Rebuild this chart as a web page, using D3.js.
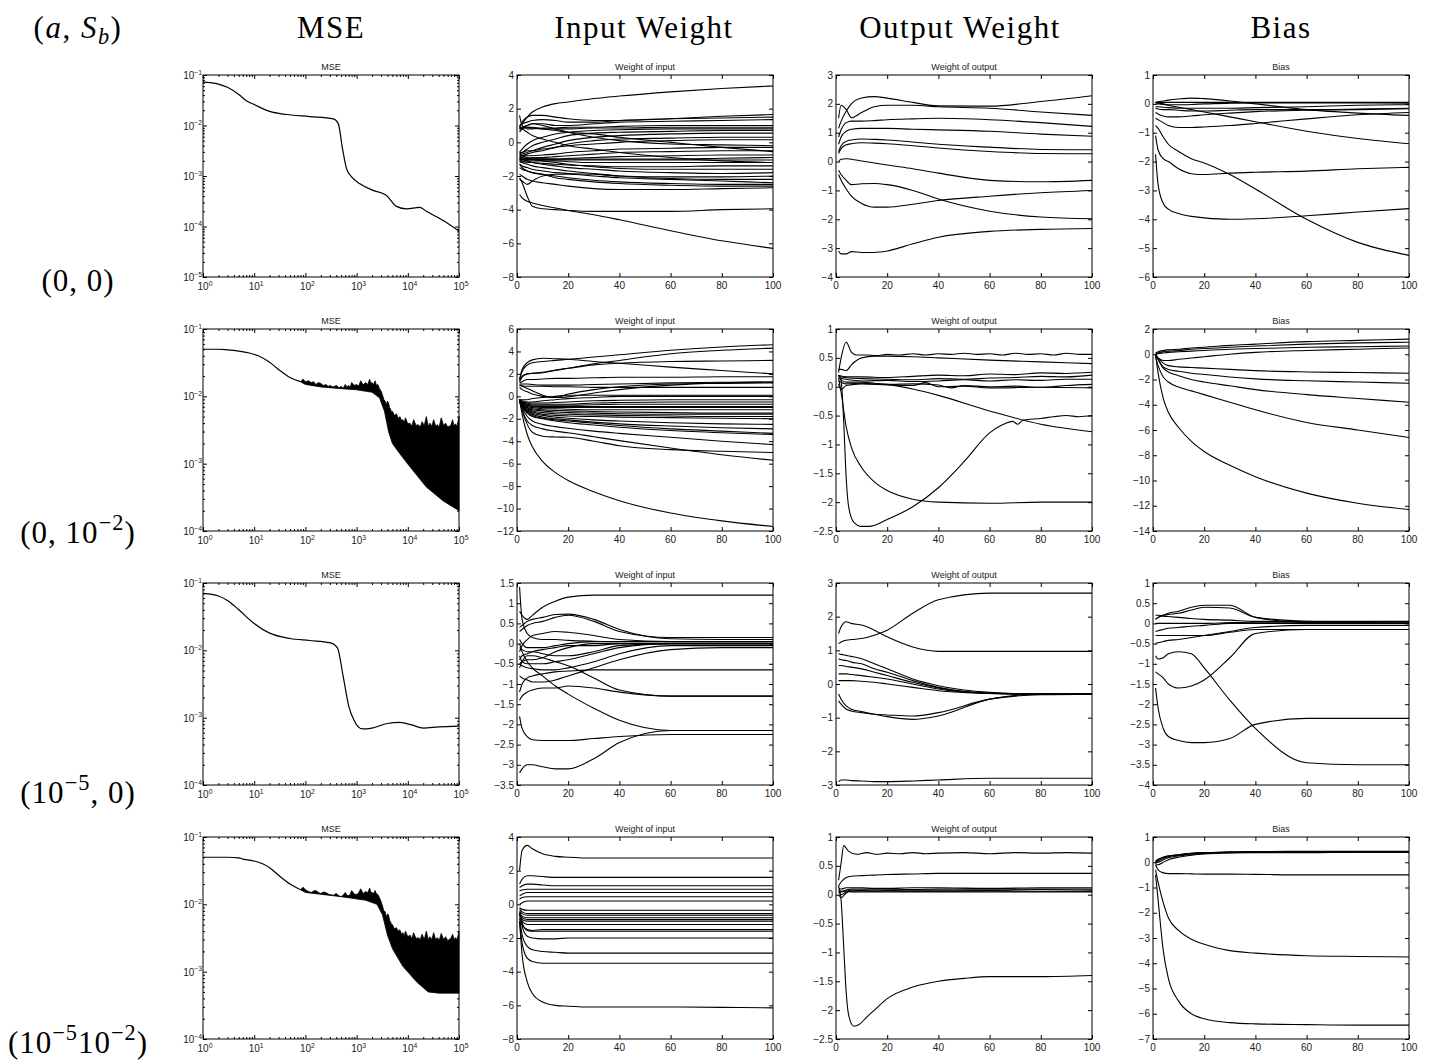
<!DOCTYPE html>
<html><head><meta charset="utf-8">
<script src="https://cdn.jsdelivr.net/npm/d3@7"></script>
<style>body{margin:0;background:#fff}svg{display:block}</style>
</head><body>
<svg id="c" width="1432" height="1061"></svg>
<script>
// ---------------- DATA ----------------
const headers = ["MSE", "Input Weight", "Output Weight", "Bias"];
const panelTitles = ["MSE", "Weight of input", "Weight of output", "Bias"];
const rowLabels = [
  [["(0, 0)", ""]],
  [["(0, 10", ""], ["\u22122", "sup"], [")", ""]],
  [["(10", ""], ["\u22125", "sup"], [", 0)", ""]],
  [["(10", ""], ["\u22125", "sup"], ["10", ""], ["\u22122", "sup"], [")", ""]]
];
const cornerLabel = [["(", ""], ["a", "it"], [", ", ""], ["S", "it"], ["b", "sub"], [")", ""]];

const mseXTicks = [1, 10, 100, 1000, 10000, 100000];
const mseYDomains = [[1e-5, 1e-1], [1e-4, 1e-1], [1e-4, 1e-1], [1e-4, 1e-1]];
const wXTicks = [0, 20, 40, 60, 80, 100];
const inTicks = [[-8,-6,-4,-2,0,2,4], [-12,-10,-8,-6,-4,-2,0,2,4,6], [-3.5,-3,-2.5,-2,-1.5,-1,-0.5,0,0.5,1,1.5], [-8,-6,-4,-2,0,2,4]];
const outTicks = [[-4,-3,-2,-1,0,1,2,3], [-2.5,-2,-1.5,-1,-0.5,0,0.5,1], [-3,-2,-1,0,1,2,3], [-2.5,-2,-1.5,-1,-0.5,0,0.5,1]];
const biasTicks = [[-6,-5,-4,-3,-2,-1,0,1], [-14,-12,-10,-8,-6,-4,-2,0,2], [-4,-3.5,-3,-2.5,-2,-1.5,-1,-0.5,0,0.5,1], [-7,-6,-5,-4,-3,-2,-1,0,1]];

// MSE curves (iteration, mse)
const mse1 = [[1,0.072],[2,0.066],[3,0.057],[5,0.041],[7,0.031],[10,0.026],[20,0.019],[43,0.0165],[120,0.015],[350,0.0135],[437,0.011],[530,0.0035],[636,0.0014],[800,0.00096],[1160,0.0007],[2100,0.00052],[3840,0.00041],[6000,0.00025],[9500,0.000223],[17000,0.00024],[23000,0.0002],[50000,0.00013],[100000,0.000081]];
const mse2 = [[1,0.05],[2,0.05],[3,0.049],[5,0.047],[8,0.044],[12,0.04],[20,0.032],[30,0.025],[50,0.019],[80,0.0165]];
const mse2Upper = [[80,0.0165],[90,0.018],[100,0.0165],[115,0.017],[130,0.016],[145,0.0165],[160,0.015],[180,0.016],[200,0.0155],[225,0.0145],[250,0.015],[280,0.014],[300,0.0145],[350,0.0138],[400,0.0145],[450,0.0135],[500,0.014],[550,0.0132],[600,0.015],[650,0.0138],[700,0.0145],[750,0.0135],[800,0.016],[900,0.0145],[1000,0.015],[1100,0.0142],[1200,0.017],[1350,0.0148],[1500,0.016],[1650,0.015],[1800,0.018],[1900,0.0155],[2000,0.016],[2150,0.015],[2300,0.017],[2450,0.0145],[2600,0.015],[2800,0.013],[3000,0.012],[3200,0.0105],[3400,0.009],[3600,0.0085],[3800,0.0075],[4000,0.0085],[4200,0.008],[4400,0.0068],[4600,0.0065],[4800,0.0058],[5000,0.006],[5500,0.0052],[6000,0.0055],[6500,0.0047],[7000,0.005],[7500,0.0044],[8000,0.0045],[8500,0.0041],[9000,0.0048],[10000,0.0039],[11000,0.004],[12000,0.0036],[13000,0.0045],[14500,0.0037],[16000,0.0038],[17500,0.0035],[19000,0.0042],[21000,0.0037],[23000,0.005],[25000,0.0036],[27000,0.004],[29500,0.0036],[32000,0.0045],[35000,0.0036],[38000,0.0038],[41000,0.0035],[45000,0.0048],[50000,0.0037],[55000,0.004],[60000,0.0035],[65000,0.0036],[70000,0.0038],[75000,0.0045],[80000,0.0036],[85000,0.0039],[92000,0.0036],[100000,0.005]];
const mse2Lower = [[80,0.0165],[100,0.015],[200,0.0138],[500,0.013],[1000,0.0125],[2000,0.0115],[2800,0.0095],[3500,0.006],[4200,0.003],[5000,0.002],[7000,0.0014],[11000,0.0009],[23000,0.00045],[49000,0.00028],[100000,0.0002]];
const mse3 = [[1,0.07],[2,0.064],[3,0.055],[5,0.04],[10,0.025],[20,0.018],[50,0.015],[120,0.014],[300,0.013],[420,0.011],[550,0.004],[700,0.0015],[900,0.0009],[1300,0.00068],[2000,0.0007],[4000,0.00082],[7000,0.00085],[12000,0.00078],[20000,0.0007],[40000,0.00073],[100000,0.00075]];
const mse4 = [[1,0.05],[3,0.05],[5,0.049],[6,0.047],[7,0.046],[10,0.044],[20,0.035],[30,0.027],[50,0.02],[80,0.0165]];
const mse4Upper = [[80,0.0165],[90,0.018],[100,0.0165],[115,0.0155],[130,0.015],[145,0.0158],[160,0.016],[180,0.015],[200,0.0145],[225,0.0152],[250,0.015],[280,0.0142],[300,0.014],[350,0.0136],[400,0.0145],[450,0.0134],[500,0.013],[550,0.0138],[600,0.015],[650,0.0136],[700,0.0135],[750,0.014],[800,0.016],[900,0.0142],[1000,0.014],[1100,0.0148],[1200,0.017],[1350,0.0145],[1500,0.0155],[1650,0.0148],[1800,0.0175],[1900,0.015],[2000,0.015],[2150,0.0145],[2300,0.016],[2450,0.0142],[2600,0.014],[2800,0.0125],[3000,0.011],[3200,0.0095],[3400,0.008],[3600,0.0078],[3800,0.0065],[4000,0.0072],[4200,0.007],[4400,0.0058],[4600,0.0055],[4800,0.005],[5000,0.005],[5500,0.0043],[6000,0.0045],[6500,0.004],[7000,0.0042],[7500,0.0036],[8000,0.0038],[8500,0.0034],[9000,0.004],[10000,0.0033],[11000,0.0035],[12000,0.0031],[13000,0.0038],[14500,0.0031],[16000,0.0032],[17500,0.003],[19000,0.0036],[21000,0.003],[23000,0.004],[25000,0.003],[27000,0.0033],[29500,0.003],[32000,0.0038],[35000,0.003],[38000,0.0032],[41000,0.0029],[45000,0.0037],[50000,0.003],[55000,0.0033],[60000,0.0029],[65000,0.003],[70000,0.0032],[75000,0.0036],[80000,0.003],[85000,0.0032],[92000,0.003],[100000,0.004]];
const mse4Lower = [[80,0.0165],[100,0.015],[500,0.013],[1500,0.0115],[2500,0.01],[3200,0.007],[4000,0.0035],[5000,0.0022],[8000,0.0012],[15000,0.0007],[25000,0.0005],[40000,0.00048],[100000,0.00048]];

// weight / bias trajectories: values at epochs in G (or explicit [epoch, value] pairs)
const G = [1,2,4,6,10,15,20,30,40,60,80,100];

const inW1 = [
 [0.9,1.1,1.5,1.8,2.1,2.3,2.4,2.6,2.75,3.0,3.2,3.35],
 [0.9,1.2,1.5,1.6,1.6,1.5,1.4,1.3,1.3,1.4,1.55,1.65],
 [1.0,1.1,1.2,1.3,1.35,1.3,1.2,1.2,1.3,1.4,1.45,1.5],
 [0.8,0.9,1.0,1.1,1.1,1.0,1.0,1.1,1.2,1.25,1.3,1.35],
 [0.7,0.8,0.9,0.9,0.8,0.7,0.6,0.5,0.3,0.0,-0.3,-0.55],
 [0.6,0.8,1.0,1.1,1.0,0.8,0.6,0.3,0.1,-0.1,-0.15,-0.2],
 [0.8,0.9,0.9,0.85,0.8,0.8,0.8,0.85,0.85,0.9,0.9,0.9],
 [-0.6,-0.4,-0.1,0.1,0.3,0.5,0.6,0.7,0.75,0.8,0.8,0.8],
 [-0.7,-0.6,-0.4,-0.2,0.0,0.2,0.4,0.55,0.6,0.65,0.7,0.7],
 [-0.8,-0.7,-0.6,-0.5,-0.3,-0.1,0.1,0.3,0.4,0.5,0.55,0.55],
 [-0.9,-0.8,-0.7,-0.6,-0.5,-0.3,-0.1,0.1,0.2,0.25,0.3,0.3],
 [-0.6,-0.6,-0.5,-0.5,-0.4,-0.3,-0.2,-0.1,0.0,0.1,0.15,0.15],
 [0.9,0.8,0.6,0.4,0.2,0.0,-0.2,-0.4,-0.6,-0.9,-1.1,-1.2],
 [-0.8,-0.8,-0.8,-0.8,-0.75,-0.7,-0.6,-0.5,-0.4,-0.35,-0.3,-0.3],
 [-1.0,-1.0,-0.95,-0.9,-0.9,-0.85,-0.8,-0.7,-0.6,-0.55,-0.5,-0.5],
 [-1.1,-1.0,-1.0,-1.0,-1.0,-1.0,-0.95,-0.9,-0.85,-0.8,-0.75,-0.75],
 [-1.0,-1.0,-1.0,-1.0,-1.0,-1.0,-1.0,-1.0,-1.0,-1.0,-0.95,-0.9],
 [-0.9,-0.9,-0.95,-1.0,-1.0,-1.05,-1.05,-1.05,-1.05,-1.05,-1.05,-1.05],
 [-1.2,-1.15,-1.1,-1.1,-1.1,-1.1,-1.15,-1.2,-1.2,-1.2,-1.2,-1.2],
 [-1.0,-1.1,-1.2,-1.2,-1.25,-1.3,-1.35,-1.4,-1.45,-1.45,-1.4,-1.4],
 [-0.7,-0.8,-0.9,-1.0,-1.1,-1.2,-1.3,-1.45,-1.55,-1.6,-1.6,-1.6],
 [-0.9,-1.0,-1.1,-1.2,-1.3,-1.4,-1.5,-1.6,-1.7,-1.8,-1.85,-1.8],
 [-1.3,-1.4,-1.5,-1.6,-1.7,-1.8,-1.85,-1.9,-2.0,-2.05,-2.05,-2.0],
 [-1.1,-1.2,-1.3,-1.4,-1.5,-1.6,-1.7,-1.85,-2.0,-2.15,-2.2,-2.2],
 [-1.3,-1.5,-1.7,-1.8,-1.9,-2.0,-2.1,-2.25,-2.35,-2.45,-2.5,-2.5],
 [-1.5,-1.6,-1.7,-1.8,-1.9,-2.1,-2.2,-2.35,-2.45,-2.55,-2.6,-2.6],
 [-1.9,-2.0,-2.2,-2.3,-2.4,-2.5,-2.6,-2.75,-2.8,-2.8,-2.75,-2.7],
 [-2.2,-2.3,-2.5,-2.3,-2.0,-1.9,-1.9,-2.0,-2.1,-2.2,-2.3,-2.4],
 [-2.1,-2.4,-3.2,-3.8,-3.95,-4.0,-4.05,-4.1,-4.1,-4.1,-4.0,-3.95],
 [-3.1,-3.3,-3.5,-3.6,-3.75,-3.9,-4.05,-4.3,-4.6,-5.25,-5.85,-6.3],
 [1.6,1.0,0.8,0.8,0.85,0.85,0.9,0.9,0.95,1.0,1.0,1.0]
];
const outW1 = [
 [1.5,1.95,1.8,1.52,1.7,1.9,1.95,1.95,1.9,1.85,1.72,1.6],
 [1.15,1.4,1.75,2.0,2.2,2.25,2.2,2.05,1.93,1.92,2.08,2.28],
 [0.85,1.1,1.35,1.4,1.4,1.42,1.45,1.48,1.5,1.45,1.35,1.22],
 [0.6,0.85,1.05,1.12,1.15,1.15,1.15,1.12,1.1,1.05,0.95,0.88],
 [0.35,0.55,0.7,0.75,0.78,0.77,0.75,0.68,0.6,0.5,0.42,0.41],
 [0.28,0.45,0.58,0.62,0.65,0.64,0.62,0.55,0.47,0.35,0.28,0.27],
 [0.0,0.08,0.1,0.08,0.02,-0.05,-0.12,-0.25,-0.4,-0.65,-0.7,-0.65],
 [-0.3,-0.45,-0.65,-0.8,-0.77,-0.76,-0.8,-1.0,-1.3,-1.72,-1.92,-1.98],
 [-0.45,-0.65,-0.95,-1.2,-1.45,-1.58,-1.58,-1.48,-1.35,-1.2,-1.08,-1.0],
 [-3.1,-3.2,-3.2,-3.12,-3.15,-3.15,-3.1,-2.85,-2.62,-2.42,-2.35,-2.32]
];
const bias1 = [
 [0.05,0.07,0.1,0.13,0.17,0.2,0.18,0.1,0.0,-0.2,-0.32,-0.4],
 [0.05,0.05,0.05,0.05,0.05,0.05,0.05,0.05,0.05,0.05,0.05,0.05],
 [0.0,0.0,-0.02,-0.03,-0.03,-0.02,0.0,0.02,0.03,0.03,0.03,0.02],
 [-0.1,-0.1,-0.12,-0.13,-0.15,-0.15,-0.15,-0.15,-0.13,-0.1,-0.05,-0.03],
 [-0.15,-0.18,-0.2,-0.2,-0.22,-0.25,-0.25,-0.22,-0.2,-0.2,-0.18,-0.15],
 [-0.3,-0.35,-0.42,-0.45,-0.45,-0.42,-0.38,-0.32,-0.27,-0.22,-0.2,-0.17],
 [-0.5,-0.55,-0.65,-0.75,-0.82,-0.82,-0.8,-0.75,-0.68,-0.52,-0.38,-0.3],
 [0.05,0.03,0.0,-0.05,-0.12,-0.2,-0.28,-0.45,-0.62,-0.95,-1.2,-1.38],
 [-0.75,-0.85,-1.15,-1.4,-1.65,-1.9,-2.05,-2.45,-2.95,-4.0,-4.8,-5.25],
 [-1.1,-1.6,-1.9,-2.0,-2.25,-2.42,-2.45,-2.4,-2.37,-2.33,-2.25,-2.2],
 [-1.75,-2.8,-3.45,-3.65,-3.8,-3.9,-3.95,-4.0,-3.98,-3.88,-3.75,-3.63]
];
const inW2 = [
 [1.5,2.4,3.0,3.25,3.4,3.35,3.3,3.1,2.95,2.6,2.3,2.0],
 [1.5,2.2,2.8,3.0,3.1,3.2,3.3,3.5,3.7,4.1,4.4,4.6],
 [1.3,1.7,2.0,2.05,2.1,2.3,2.5,2.9,3.2,3.8,4.1,4.3],
 [1.4,1.8,2.0,2.05,2.15,2.35,2.5,2.8,2.95,3.1,3.15,3.2],
 [1.2,1.3,1.5,1.5,1.55,1.6,1.6,1.65,1.7,1.7,1.75,1.75],
 [1.1,1.1,1.1,1.05,1.0,1.0,1.0,1.05,1.1,1.2,1.25,1.25],
 [1.0,0.95,0.9,0.9,0.9,0.85,0.85,0.8,0.8,0.8,0.8,0.8],
 [0.8,0.6,0.4,0.2,0.0,-0.1,-0.05,0.3,0.6,1.0,1.2,1.3],
 [1.0,0.9,0.7,0.5,0.1,-0.1,0.2,0.6,0.85,1.1,1.15,1.2],
 [-0.3,-0.3,-0.3,-0.2,-0.1,0.0,0.1,0.1,0.1,0.1,0.1,0.1],
 [-0.3,-0.4,-0.5,-0.5,-0.4,-0.3,-0.2,-0.1,0.0,0.0,0.0,0.0],
 [-0.4,-0.5,-0.6,-0.6,-0.6,-0.55,-0.5,-0.4,-0.35,-0.3,-0.3,-0.3],
 [-0.3,-0.5,-0.6,-0.7,-0.7,-0.7,-0.7,-0.6,-0.55,-0.5,-0.5,-0.5],
 [-0.4,-0.6,-0.7,-0.8,-0.8,-0.8,-0.8,-0.75,-0.7,-0.7,-0.7,-0.7],
 [-0.3,-0.6,-0.8,-0.9,-0.9,-0.9,-0.9,-0.9,-0.9,-0.9,-0.9,-0.9],
 [-0.4,-0.6,-0.8,-0.9,-1.0,-1.0,-1.0,-1.0,-1.0,-1.0,-1.0,-1.0],
 [-0.3,-0.7,-0.9,-1.0,-1.1,-1.1,-1.15,-1.2,-1.2,-1.2,-1.2,-1.2],
 [-0.5,-0.8,-1.0,-1.1,-1.2,-1.25,-1.3,-1.35,-1.4,-1.45,-1.5,-1.5],
 [-0.4,-0.8,-1.0,-1.2,-1.3,-1.4,-1.45,-1.5,-1.55,-1.6,-1.6,-1.6],
 [-0.3,-0.7,-1.1,-1.3,-1.45,-1.55,-1.6,-1.65,-1.7,-1.75,-1.8,-1.8],
 [-0.4,-0.8,-1.2,-1.4,-1.6,-1.7,-1.75,-1.8,-1.85,-1.9,-1.95,-2.0],
 [-0.5,-0.9,-1.3,-1.5,-1.7,-1.85,-1.95,-2.1,-2.2,-2.35,-2.45,-2.5],
 [-0.3,-0.8,-1.3,-1.6,-1.85,-2.0,-2.1,-2.3,-2.45,-2.65,-2.8,-2.9],
 [-0.4,-0.9,-1.4,-1.7,-1.95,-2.1,-2.2,-2.4,-2.6,-2.9,-3.1,-3.3],
 [-0.3,-0.9,-1.5,-1.8,-2.0,-2.2,-2.35,-2.55,-2.75,-3.05,-3.25,-3.4],
 [-0.3,-1.0,-1.8,-2.2,-2.5,-2.7,-2.85,-3.1,-3.3,-3.65,-4.0,-4.3],
 [-0.4,-1.2,-2.2,-2.6,-2.9,-3.1,-3.25,-3.6,-3.95,-4.6,-5.2,-5.7],
 [-0.3,-1.2,-2.5,-3.2,-3.55,-3.62,-3.65,-4.0,-4.4,-4.75,-4.9,-5.0],
 [-0.3,-1.6,-3.4,-4.5,-5.8,-6.8,-7.5,-8.5,-9.3,-10.4,-11.1,-11.6]
];
const outW2 = [
 [[1,0.25],[2,0.5],[4,0.77],[6,0.6],[8,0.55],[12,0.55],[16,0.54],[20,0.56],[25,0.55],[30,0.57],[35,0.55],[40,0.57],[45,0.56],[50,0.58],[55,0.56],[60,0.57],[65,0.55],[70,0.58],[75,0.56],[80,0.57],[85,0.55],[90,0.58],[95,0.56],[100,0.56]],
 [0.3,0.3,0.28,0.38,0.5,0.53,0.53,0.52,0.5,0.46,0.43,0.4],
 [[1,0.2],[4,0.17],[10,0.17],[20,0.16],[30,0.18],[40,0.2],[50,0.19],[60,0.22],[70,0.21],[80,0.24],[90,0.23],[100,0.25]],
 [[1,0.18],[5,0.15],[10,0.14],[20,0.13],[30,0.12],[40,0.14],[50,0.13],[60,0.15],[70,0.16],[80,0.18],[90,0.17],[100,0.2]],
 [[1,0.15],[5,0.12],[10,0.1],[20,0.11],[30,0.09],[40,0.1],[50,0.12],[60,0.1],[70,0.12],[80,0.11],[90,0.13],[100,0.13]],
 [[1,0.1],[4,0.05],[10,0.06],[20,0.04],[30,0.05],[40,0.03],[45,-0.02],[50,0.02],[60,0.0],[70,0.01],[80,-0.01],[90,0.02],[100,0.04]],
 [[1,0.05],[2,-0.05],[4,0.02],[10,0.05],[20,0.03],[30,0.02],[35,0.07],[40,0.0],[50,0.01],[60,-0.02],[80,-0.01],[100,-0.02]],
 [0.2,0.12,0.08,0.08,0.08,0.06,0.04,-0.04,-0.15,-0.42,-0.65,-0.78],
 [[1,0.2],[2,0.1],[3,-0.6],[4,-1.6],[5,-2.1],[7,-2.35],[10,-2.42],[13,-2.42],[20,-2.3],[30,-2.08],[40,-1.75],[50,-1.3],[60,-0.8],[65,-0.66],[69,-0.6],[71,-0.65],[73,-0.58],[80,-0.55],[85,-0.52],[90,-0.5],[95,-0.52],[100,-0.5]],
 [0.15,-0.1,-0.7,-1.05,-1.4,-1.65,-1.8,-1.95,-2.0,-2.02,-2.0,-2.0]
];
const bias2 = [
 [0.1,0.2,0.3,0.35,0.4,0.5,0.55,0.7,0.8,1.0,1.1,1.2],
 [0.0,0.1,0.2,0.25,0.3,0.4,0.45,0.55,0.65,0.8,0.9,0.95],
 [0.0,0.05,0.1,0.15,0.2,0.25,0.3,0.4,0.45,0.55,0.6,0.65],
 [-0.1,-0.3,-0.5,-0.5,-0.4,-0.3,-0.2,0.0,0.15,0.3,0.4,0.5],
 [0.0,-0.3,-0.7,-0.9,-1.0,-1.05,-1.1,-1.2,-1.3,-1.4,-1.45,-1.5],
 [0.0,-0.4,-1.0,-1.2,-1.35,-1.5,-1.6,-1.8,-1.95,-2.1,-2.2,-2.3],
 [0.0,-0.4,-1.1,-1.4,-1.7,-2.0,-2.2,-2.5,-2.8,-3.2,-3.5,-3.8],
 [-0.2,-0.9,-1.8,-2.2,-2.6,-2.9,-3.2,-3.8,-4.4,-5.4,-6.0,-6.6],
 [0.0,-1.5,-3.5,-4.6,-5.8,-6.9,-7.7,-8.8,-9.7,-11.0,-11.8,-12.3]
];
const inW3 = [
 [0.8,0.7,0.6,0.7,0.9,1.05,1.15,1.2,1.2,1.2,1.2,1.2],
 [0.3,0.35,0.45,0.5,0.55,0.65,0.7,0.55,0.3,0.15,0.15,0.15],
 [0.4,0.45,0.55,0.6,0.65,0.72,0.73,0.6,0.35,0.12,0.1,0.1],
 [1.4,0.6,0.25,0.15,0.1,0.1,0.08,0.06,0.05,0.05,0.05,0.05],
 [-0.1,-0.15,-0.2,-0.2,-0.25,-0.3,-0.3,-0.2,-0.05,0.0,0.0,0.0],
 [-0.5,-0.45,-0.4,-0.4,-0.35,-0.2,-0.1,0.0,0.0,0.0,0.0,0.0],
 [-0.5,-0.55,-0.6,-0.62,-0.65,-0.65,-0.6,-0.45,-0.25,-0.05,-0.05,-0.05],
 [-0.8,-0.85,-0.9,-0.95,-0.95,-0.9,-0.8,-0.6,-0.4,-0.15,-0.1,-0.1],
 [-1.2,-1.0,-0.85,-0.8,-0.75,-0.7,-0.68,-0.65,-0.65,-0.65,-0.65,-0.65],
 [-0.6,-0.45,-0.3,-0.3,-0.35,-0.45,-0.55,-0.85,-1.15,-1.3,-1.3,-1.3],
 [0.0,-0.2,-0.45,-0.6,-0.8,-1.05,-1.25,-1.6,-1.9,-2.15,-2.15,-2.15],
 [-1.8,-2.1,-2.3,-2.38,-2.4,-2.4,-2.4,-2.35,-2.3,-2.25,-2.25,-2.25],
 [-3.2,-3.1,-3.0,-3.0,-3.05,-3.1,-3.1,-2.85,-2.45,-2.15,-2.15,-2.15],
 [-1.4,-1.3,-1.2,-1.15,-1.1,-1.1,-1.05,-1.1,-1.2,-1.3,-1.3,-1.3],
 [-0.2,-0.05,0.1,0.2,0.25,0.3,0.28,0.2,0.1,0.05,0.05,0.05],
 [0.1,0.0,-0.1,-0.1,-0.1,-0.05,0.0,0.05,0.05,0.05,0.05,0.05],
 [-0.4,-0.3,-0.25,-0.2,-0.15,-0.1,-0.05,-0.05,0,0,0,0],
 [-0.3,-0.45,-0.5,-0.5,-0.5,-0.45,-0.4,-0.25,-0.1,0.0,0.0,0.0]
];
const outW3 = [
 [1.5,1.7,1.85,1.8,1.75,1.6,1.4,1.1,0.97,0.97,0.97,0.97],
 [1.2,1.25,1.3,1.32,1.35,1.45,1.6,2.1,2.5,2.7,2.7,2.7],
 [0.9,0.88,0.85,0.82,0.75,0.6,0.45,0.15,-0.05,-0.25,-0.3,-0.3],
 [0.75,0.72,0.7,0.65,0.6,0.45,0.35,0.1,-0.1,-0.27,-0.3,-0.3],
 [0.55,0.55,0.52,0.5,0.45,0.35,0.25,0.05,-0.12,-0.28,-0.3,-0.3],
 [0.3,0.3,0.3,0.28,0.25,0.2,0.15,0.0,-0.15,-0.28,-0.3,-0.3],
 [0.1,0.1,0.1,0.1,0.08,0.05,0.0,-0.1,-0.2,-0.28,-0.3,-0.3],
 [-0.3,-0.45,-0.65,-0.75,-0.82,-0.9,-0.97,-1.05,-0.95,-0.45,-0.3,-0.3],
 [-0.5,-0.6,-0.75,-0.8,-0.85,-0.9,-0.92,-0.95,-0.85,-0.45,-0.32,-0.3],
 [-2.9,-2.85,-2.85,-2.87,-2.88,-2.9,-2.9,-2.88,-2.85,-2.8,-2.8,-2.8]
];
const bias3 = [
 [0.1,0.15,0.2,0.25,0.3,0.4,0.45,0.45,0.15,0.02,0.0,0.0],
 [0.1,0.15,0.2,0.22,0.25,0.33,0.4,0.38,0.15,0.05,0.02,0.0],
 [0.2,0.2,0.18,0.17,0.15,0.12,0.1,0.08,0.05,0.05,0.05,0.05],
 [0.0,0.0,0.0,0.0,0.0,0.0,0.0,0.02,0.03,0.03,0.03,0.03],
 [-0.2,-0.18,-0.15,-0.12,-0.1,-0.07,-0.05,0.0,0.0,0.0,0.0,0.0],
 [-0.5,-0.48,-0.45,-0.42,-0.4,-0.35,-0.3,-0.2,-0.1,-0.05,-0.05,-0.05],
 [-0.3,-0.3,-0.3,-0.3,-0.3,-0.3,-0.3,-0.22,-0.15,-0.15,-0.15,-0.15],
 [-1.2,-1.25,-1.35,-1.5,-1.6,-1.55,-1.4,-0.85,-0.25,-0.15,-0.15,-0.15],
 [-0.8,-0.88,-0.85,-0.75,-0.7,-0.75,-1.1,-1.9,-2.6,-3.45,-3.5,-3.5],
 [-1.6,-2.1,-2.6,-2.8,-2.9,-2.95,-2.95,-2.85,-2.5,-2.35,-2.35,-2.35]
];
const inW4 = [
 [2.0,3.2,3.5,3.3,3.0,2.85,2.8,2.75,2.75,2.75,2.75,2.75],
 [1.2,1.5,1.7,1.7,1.65,1.6,1.6,1.6,1.6,1.6,1.6,1.6],
 [1.0,1.1,1.2,1.2,1.15,1.1,1.1,1.1,1.1,1.1,1.1,1.1],
 [0.8,0.85,0.9,0.9,0.9,0.9,0.9,0.9,0.9,0.9,0.9,0.9],
 [0.5,0.6,0.7,0.7,0.7,0.7,0.7,0.7,0.7,0.7,0.7,0.7],
 [0.3,0.4,0.45,0.45,0.45,0.45,0.45,0.45,0.45,0.45,0.45,0.45],
 [0.0,0.1,0.2,0.2,0.2,0.2,0.2,0.2,0.2,0.2,0.2,0.2],
 [-0.2,-0.3,-0.35,-0.35,-0.35,-0.35,-0.35,-0.35,-0.35,-0.35,-0.35,-0.35],
 [-0.3,-0.45,-0.55,-0.55,-0.55,-0.55,-0.55,-0.55,-0.55,-0.55,-0.55,-0.55],
 [-0.4,-0.55,-0.65,-0.65,-0.65,-0.65,-0.65,-0.65,-0.65,-0.65,-0.65,-0.65],
 [-0.5,-0.7,-0.8,-0.8,-0.8,-0.8,-0.8,-0.8,-0.8,-0.8,-0.8,-0.8],
 [-0.5,-0.8,-0.9,-0.9,-0.9,-0.9,-0.9,-0.9,-0.9,-0.9,-0.9,-0.9],
 [-0.6,-0.9,-1.0,-1.0,-1.0,-1.0,-1.0,-1.0,-1.0,-1.0,-1.0,-1.0],
 [-0.6,-1.0,-1.2,-1.2,-1.2,-1.2,-1.2,-1.2,-1.2,-1.2,-1.2,-1.2],
 [-0.5,-1.2,-1.5,-1.55,-1.5,-1.5,-1.5,-1.5,-1.5,-1.5,-1.5,-1.5],
 [-0.5,-1.1,-1.55,-1.6,-1.6,-1.6,-1.6,-1.6,-1.6,-1.6,-1.6,-1.6],
 [-0.5,-1.3,-1.9,-2.0,-2.05,-2.05,-2.0,-2.0,-2.0,-2.0,-2.0,-2.0],
 [-0.8,-1.8,-2.5,-2.7,-2.8,-2.85,-2.9,-2.9,-2.9,-2.9,-2.9,-2.9],
 [-1.0,-2.3,-3.2,-3.4,-3.5,-3.5,-3.5,-3.5,-3.5,-3.5,-3.5,-3.5],
 [-1.0,-3.0,-4.6,-5.3,-5.8,-6.0,-6.05,-6.1,-6.1,-6.1,-6.12,-6.15]
];
const outW4 = [
 [[1,0.25],[2,0.55],[3,0.85],[5,0.75],[8,0.7],[12,0.73],[16,0.7],[20,0.72],[25,0.71],[30,0.73],[35,0.71],[40,0.72],[50,0.73],[60,0.71],[70,0.73],[80,0.72],[90,0.73],[100,0.72]],
 [0.15,0.22,0.3,0.32,0.33,0.34,0.35,0.36,0.37,0.37,0.37,0.37],
 [0.1,0.1,0.12,0.12,0.12,0.11,0.11,0.12,0.12,0.11,0.12,0.12],
 [0.08,0.06,0.08,0.1,0.1,0.1,0.1,0.09,0.1,0.1,0.1,0.1],
 [0.05,0.0,0.05,0.08,0.08,0.08,0.08,0.08,0.08,0.08,0.09,0.08],
 [0.0,-0.05,0.03,0.06,0.07,0.06,0.07,0.06,0.06,0.07,0.06,0.06],
 [0.05,0.05,0.06,0.05,0.05,0.05,0.05,0.05,0.05,0.05,0.05,0.05],
 [[1,0.15],[2,-0.1],[3,-0.9],[4,-1.7],[5,-2.1],[7,-2.28],[9,-2.25],[12,-2.12],[15,-2.0],[20,-1.8],[30,-1.6],[40,-1.5],[50,-1.45],[60,-1.42],[80,-1.42],[100,-1.4]]
];
const bias4 = [
 [0.0,0.1,0.2,0.25,0.3,0.35,0.38,0.4,0.42,0.43,0.43,0.43],
 [0.05,0.12,0.2,0.25,0.3,0.35,0.38,0.4,0.42,0.42,0.42,0.42],
 [-0.05,0.05,0.15,0.22,0.28,0.33,0.36,0.4,0.41,0.42,0.42,0.42],
 [0.0,0.0,0.1,0.18,0.25,0.3,0.35,0.38,0.4,0.4,0.4,0.4],
 [-0.1,-0.1,0.0,0.1,0.2,0.28,0.33,0.37,0.38,0.38,0.4,0.4],
 [-0.1,-0.3,-0.42,-0.45,-0.45,-0.46,-0.47,-0.47,-0.48,-0.5,-0.5,-0.5],
 [-0.3,-0.8,-1.6,-2.2,-2.7,-3.05,-3.25,-3.5,-3.6,-3.7,-3.73,-3.75],
 [-0.5,-1.5,-3.5,-4.6,-5.5,-6.0,-6.2,-6.35,-6.4,-6.43,-6.45,-6.45]
];

// ---------------- LAYOUT ----------------
const colL = [203, 517, 836, 1153];
const colW = 256;
const rowT = [75, 329, 583, 837];
const rowH = 202;
const headerX = [331, 644, 960, 1281];
const headerY = 38;
const rowLabelX = 78;
const rowLabelY = [291, 543, 803, 1053];

const svg = d3.select("#c");
const FONT_SERIF = "'Liberation Serif','Times New Roman',serif";
const FONT_SANS = "'Liberation Sans',Arial,Helvetica,sans-serif";
const TICK_COLOR = "#222";
const BIG = 31;

function richText(sel, segs, size) {
  let prev = "";
  segs.forEach(([t, kind]) => {
    const ts = sel.append("tspan").text(t);
    let dy = 0;
    if (kind === "sup") { ts.attr("font-size", size * 0.72); dy = -size * 0.42; }
    else if (kind === "sub") { ts.attr("font-size", size * 0.72).attr("font-style", "italic"); dy = size * 0.2; }
    else if (kind === "it") { ts.attr("font-style", "italic"); }
    if (prev === "sup") dy += size * 0.42;
    if (prev === "sub") dy -= size * 0.2;
    if (dy) ts.attr("dy", dy);
    prev = kind;
  });
}

// headers
svg.append("text").attr("x", rowLabelX).attr("y", headerY).attr("text-anchor", "middle")
  .attr("font-family", FONT_SERIF).attr("font-size", BIG).attr("letter-spacing", 1.5)
  .call(s => richText(s, cornerLabel, BIG));
headers.forEach((h, i) => {
  svg.append("text").attr("x", headerX[i]).attr("y", headerY).attr("text-anchor", "middle")
    .attr("font-family", FONT_SERIF).attr("font-size", BIG).attr("letter-spacing", 1.5).text(h);
});
rowLabels.forEach((segs, r) => {
  svg.append("text").attr("x", rowLabelX).attr("y", rowLabelY[r]).attr("text-anchor", "middle")
    .attr("font-family", FONT_SERIF).attr("font-size", BIG).attr("letter-spacing", 1)
    .call(s => richText(s, segs, BIG));
});

const TL = 4, TLm = 2;
function mirrorTicks(g, x, y, xv, yv, len) {
  const clean = s => s.call(a => a.select(".domain").remove()).selectAll("text").remove();
  g.append("g").attr("transform", `translate(0,${rowH})`).call(d3.axisBottom(x).tickValues(xv).tickSize(-len)).call(clean);
  g.append("g").call(d3.axisTop(x).tickValues(xv).tickSize(-len)).call(clean);
  g.append("g").call(d3.axisLeft(y).tickValues(yv).tickSize(-len)).call(clean);
  g.append("g").attr("transform", `translate(${colW},0)`).call(d3.axisRight(y).tickValues(yv).tickSize(-len)).call(clean);
}

function panel(r, c) {
  const g = svg.append("g").attr("transform", `translate(${colL[c]},${rowT[r]})`);
  g.append("text").attr("x", colW / 2).attr("y", -5).attr("text-anchor", "middle")
    .attr("font-family", FONT_SANS).attr("font-size", 9).attr("fill", TICK_COLOR).text(panelTitles[c]);
  return g;
}

function expLabel(sel, exp, size) {
  sel.append("tspan").text("10");
  sel.append("tspan").text(d3.format("d")(exp)).attr("font-size", size * 0.68).attr("dy", -size * 0.45);
}

const lineGen = (x, y, curve) => d3.line().x(d => x(d[0])).y(d => y(d[1])).curve(curve);
const toPts = line => Array.isArray(line[0]) ? line : line.map((v, i) => [G[i], v]);

// MSE panels
const mseData = [
  {line: mse1}, {line: mse2, up: mse2Upper, lo: mse2Lower},
  {line: mse3}, {line: mse4, up: mse4Upper, lo: mse4Lower}
];
mseData.forEach((d, r) => {
  const g = panel(r, 0);
  const x = d3.scaleLog().domain([1, 1e5]).range([0, colW]);
  const y = d3.scaleLog().domain(mseYDomains[r]).range([rowH, 0]);
  const yMajor = y.ticks().filter(v => Math.abs(Math.log10(v) - Math.round(Math.log10(v))) < 1e-9);
  const yMinor = y.ticks().filter(v => !yMajor.includes(v));
  const xMinor = x.ticks().filter(v => !mseXTicks.includes(v));
  mirrorTicks(g, x, y, mseXTicks, yMajor, TL);
  mirrorTicks(g, x, y, xMinor, yMinor, TLm);
  const clip = g.append("g");
  if (d.up) {
    const poly = d.up.concat(d.lo.slice().reverse());
    clip.append("path").attr("d", lineGen(x, y, d3.curveLinear)(poly) + "Z")
      .attr("fill", "#000").attr("stroke", "#000").attr("stroke-width", 0.8);
  }
  clip.append("path").attr("d", lineGen(x, y, d3.curveMonotoneX)(d.line))
    .attr("fill", "none").attr("stroke", "#000").attr("stroke-width", 1.2);
  g.append("rect").attr("width", colW).attr("height", rowH).attr("fill", "none").attr("stroke", "#000").attr("stroke-width", 1);
  mseXTicks.forEach(v => {
    g.append("text").attr("x", x(v) + 2).attr("y", rowH + 13).attr("text-anchor", "middle")
      .attr("font-family", FONT_SANS).attr("font-size", 10).attr("fill", TICK_COLOR)
      .call(s => expLabel(s, Math.round(Math.log10(v)), 10));
  });
  yMajor.forEach(v => {
    g.append("text").attr("x", -1).attr("y", y(v) + 4).attr("text-anchor", "end")
      .attr("font-family", FONT_SANS).attr("font-size", 10).attr("fill", TICK_COLOR)
      .call(s => expLabel(s, Math.round(Math.log10(v)), 10));
  });
});

// weight / bias panels
const wData = [
  [inW1, outW1, bias1], [inW2, outW2, bias2], [inW3, outW3, bias3], [inW4, outW4, bias4]
];
const tickSets = [inTicks, outTicks, biasTicks];
const fmt = d3.format("~g");
wData.forEach((rowSets, r) => {
  rowSets.forEach((lines, k) => {
    const c = k + 1;
    const g = panel(r, c);
    const yt = tickSets[k][r];
    const x = d3.scaleLinear().domain([0, 100]).range([0, colW]);
    const y = d3.scaleLinear().domain(d3.extent(yt)).range([rowH, 0]);
    mirrorTicks(g, x, y, wXTicks, yt, TL);
    const lg = lineGen(x, y, d3.curveMonotoneX);
    g.append("g").selectAll("path").data(lines).join("path")
      .attr("d", l => lg(toPts(l))).attr("fill", "none").attr("stroke", "#000").attr("stroke-width", 1.1);
    g.append("rect").attr("width", colW).attr("height", rowH).attr("fill", "none").attr("stroke", "#000").attr("stroke-width", 1);
    wXTicks.forEach(v => {
      g.append("text").attr("x", x(v)).attr("y", rowH + 12).attr("text-anchor", "middle")
        .attr("font-family", FONT_SANS).attr("font-size", 10).attr("fill", TICK_COLOR).text(fmt(v));
    });
    yt.forEach(v => {
      g.append("text").attr("x", -3).attr("y", y(v) + 3.5).attr("text-anchor", "end")
        .attr("font-family", FONT_SANS).attr("font-size", 10).attr("fill", TICK_COLOR).text(fmt(v));
    });
  });
});
</script>
</body></html>
